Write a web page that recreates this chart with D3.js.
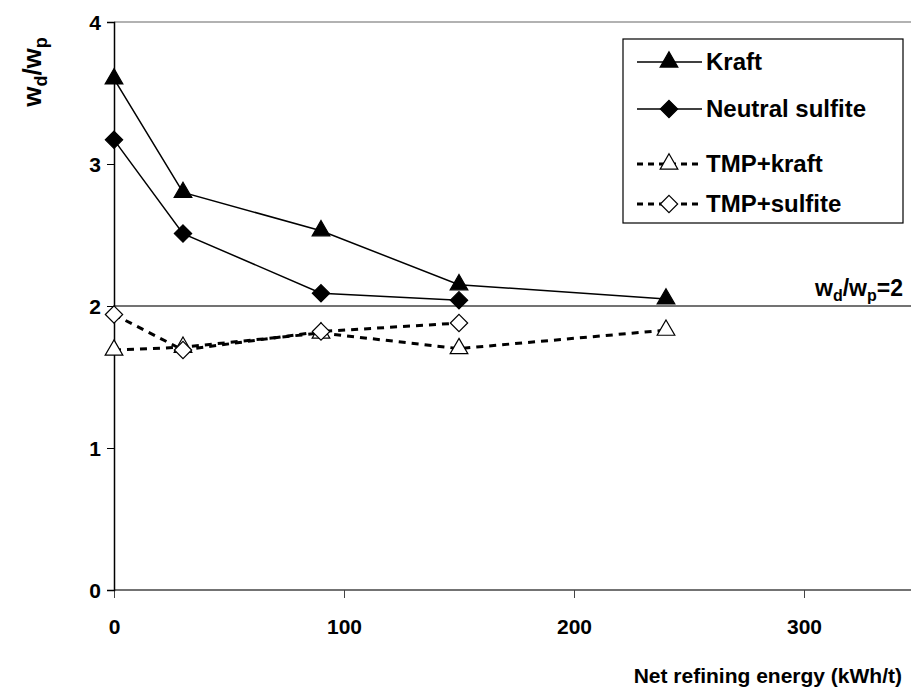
<!DOCTYPE html>
<html lang="en">
<head>
    <meta charset="UTF-8">
    <title>wd/wp vs refining energy</title>
    <script src="https://d3js.org/d3.v7.min.js"></script>
    <style>
        body { margin: 0; background: #fff; }
        svg { display: block; font-family: Arial, "Liberation Sans", sans-serif; font-weight: bold; }
        .tick text { font-size: 21px; font-weight: bold; fill: #000; }
    </style>
</head>
<body>
    <div id="chart"></div>
    <script>
        const width = 911;
        const height = 693;

        // data
        const energy = [0, 30, 90, 150, 240];
        const kraft = [3.6, 2.80, 2.53, 2.15, 2.05];
        const neutralSulfite = [3.17, 2.51, 2.09, 2.04];
        const tmpKraft = [1.69, 1.71, 1.81, 1.70, 1.83];
        const tmpSulfite = [1.94, 1.69, 1.82, 1.88];
        const xTicks = [0, 100, 200, 300];
        const yTicks = [0, 1, 2, 3, 4];
        const threshold = 2;

        // diamond drawn as a square turned 45 degrees
        const diamond = {
            draw(context, size) {
                const r = Math.sqrt(size / 2);
                context.moveTo(0, -r);
                context.lineTo(r, 0);
                context.lineTo(0, r);
                context.lineTo(-r, 0);
                context.closePath();
            }
        };

        const series = [
            { name: "Kraft", values: kraft, symbol: d3.symbolTriangle, size: 135, fill: "#000", dash: null },
            { name: "Neutral sulfite", values: neutralSulfite, symbol: diamond, size: 150, fill: "#000", dash: null },
            { name: "TMP+kraft", values: tmpKraft, symbol: d3.symbolTriangle, size: 135, fill: "#fff", dash: "7,6" },
            { name: "TMP+sulfite", values: tmpSulfite, symbol: diamond, size: 150, fill: "#fff", dash: "7,6" }
        ];

        const x = d3.scaleLinear().domain([0, 350]).range([114, 919]);
        const y = d3.scaleLinear().domain([0, 4]).range([590, 22]);

        const svg = d3.select("#chart").append("svg")
            .attr("width", width).attr("height", height);

        // top border of plot area
        svg.append("line")
            .attr("x1", x(0)).attr("x2", width)
            .attr("y1", y(4)).attr("y2", y(4))
            .attr("stroke", "#999").attr("stroke-width", 1.5);

        // reference line wd/wp = 2
        svg.append("line")
            .attr("x1", x(0)).attr("x2", width)
            .attr("y1", y(threshold)).attr("y2", y(threshold))
            .attr("stroke", "#444").attr("stroke-width", 1.5);

        const thr = svg.append("text")
            .attr("x", 903).attr("y", y(threshold) - 10)
            .attr("text-anchor", "end")
            .style("font-size", "23px");
        thr.append("tspan").text("w");
        thr.append("tspan").attr("dy", 5).style("font-size", "16px").text("d");
        thr.append("tspan").attr("dy", -5).text("/w");
        thr.append("tspan").attr("dy", 5).style("font-size", "16px").text("p");
        thr.append("tspan").attr("dy", -5).text("=2");

        // axes
        const xAxis = svg.append("g")
            .attr("transform", `translate(0,${y(0)})`)
            .call(d3.axisBottom(x).tickValues(xTicks).tickFormat(d3.format("d")).tickSize(8).tickPadding(21));
        xAxis.select(".domain").remove();
        xAxis.append("line").attr("x1", x(0)).attr("x2", width)
            .attr("stroke", "#444").attr("stroke-width", 1.5);
        xAxis.selectAll(".tick line").attr("stroke", "#444");

        const yAxis = svg.append("g")
            .attr("transform", `translate(${x(0)},0)`)
            .call(d3.axisLeft(y).tickValues(yTicks).tickFormat(d3.format("d")).tickSize(7).tickPadding(6));
        yAxis.select(".domain").attr("stroke", "#000").attr("stroke-width", 1.5);
        yAxis.selectAll(".tick text").attr("dy", "0.36em");

        // axis titles
        svg.append("text")
            .attr("x", 902).attr("y", 683)
            .attr("text-anchor", "end")
            .style("font-size", "21px")
            .text("Net refining energy (kWh/t)");

        const yl = svg.append("text")
            .attr("transform", "translate(41,72) rotate(-90)")
            .attr("text-anchor", "middle")
            .style("font-size", "26px");
        yl.append("tspan").text("w");
        yl.append("tspan").attr("dy", 6).style("font-size", "18px").text("d");
        yl.append("tspan").attr("dy", -6).text("/w");
        yl.append("tspan").attr("dy", 6).style("font-size", "18px").text("p");

        // lines and markers
        const line = d3.line()
            .x((d, i) => x(energy[i]))
            .y(d => y(d));

        series.forEach(s => {
            svg.append("path")
                .datum(s.values)
                .attr("d", line)
                .attr("fill", "none")
                .attr("stroke", "#000")
                .attr("stroke-width", s.dash ? 3 : 1.5)
                .attr("stroke-dasharray", s.dash);

            svg.selectAll(null)
                .data(s.values)
                .enter()
                .append("path")
                .attr("transform", (d, i) => `translate(${x(energy[i])},${y(d)})`)
                .attr("d", d3.symbol().type(s.symbol).size(s.size))
                .attr("fill", s.fill)
                .attr("stroke", "#000")
                .attr("stroke-width", 1.2);
        });

        // legend
        const legend = svg.append("g");
        legend.append("rect")
            .attr("x", 623).attr("y", 39)
            .attr("width", 280).attr("height", 184)
            .attr("fill", "#fff").attr("stroke", "#000").attr("stroke-width", 1.2);

        const legendY = [62, 109, 164, 204];
        series.forEach((s, i) => {
            const g = legend.append("g").attr("transform", `translate(0,${legendY[i]})`);
            g.append("line")
                .attr("x1", 637).attr("x2", 702)
                .attr("stroke", "#000")
                .attr("stroke-width", s.dash ? 3 : 1.5)
                .attr("stroke-dasharray", s.dash ? "6,5" : null);
            g.append("path")
                .attr("transform", "translate(669,0)")
                .attr("d", d3.symbol().type(s.symbol).size(s.size))
                .attr("fill", s.fill)
                .attr("stroke", "#000")
                .attr("stroke-width", 1.2);
            g.append("text")
                .attr("x", 706).attr("y", 0).attr("dy", "0.35em")
                .style("font-size", "24px")
                .text(s.name);
        });
    </script>
</body>
</html>
